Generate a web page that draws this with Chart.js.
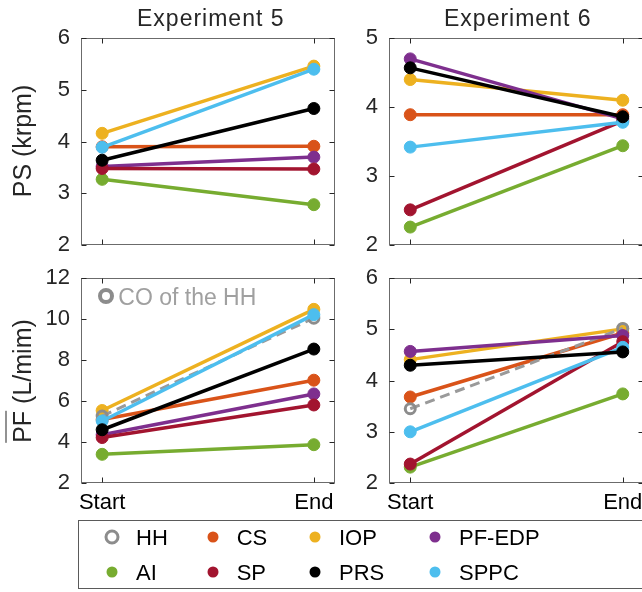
<!DOCTYPE html>
<html><head><meta charset="utf-8">
<script src="https://cdn.jsdelivr.net/npm/chart.js@4.4.1/dist/chart.umd.min.js"></script>
<style>
html,body{margin:0;padding:0;background:#fff;overflow:hidden;width:642px;height:592px;}
body{position:relative;font-family:Arial,"Liberation Sans",Helvetica,sans-serif;color:#262626;}
canvas{position:absolute;}
.t{position:absolute;white-space:nowrap;}
.title{font-size:23px;line-height:23px;letter-spacing:1px;}
.ylab{font-size:25px;line-height:25px;transform:translate(-50%,-50%) rotate(-90deg);}
.lg{position:absolute;font-size:22px;line-height:22px;white-space:nowrap;color:#000;}
.dot{position:absolute;width:11px;height:11px;border-radius:50%;transform:translate(-50%,-50%);}
.ring{position:absolute;box-sizing:border-box;border-radius:50%;transform:translate(-50%,-50%);background:transparent;}
</style></head><body>
<script>
// ---------- data ----------
const categories = ['Start', 'End'];
const seriesNames = ['CS', 'IOP', 'PF-EDP', 'AI', 'SP', 'PRS', 'SPPC'];
// Experiment 5, PS (krpm)
const ps5Start = [3.90, 4.16, 3.52, 3.27, 3.48, 3.64, 3.89];
const ps5End   = [3.91, 5.46, 3.70, 2.78, 3.47, 4.64, 5.40];
// Experiment 6, PS (krpm)
const ps6Start = [3.89, 4.40, 4.70, 2.26, 2.51, 4.57, 3.42];
const ps6End   = [3.89, 4.10, 3.83, 3.44, 3.80, 3.86, 3.78];
// Experiment 5, mean PF (L/mim)
const pf5Start = [5.10, 5.54, 4.36, 3.40, 4.22, 4.60, 5.03];
const pf5End   = [7.02, 10.48, 6.35, 3.87, 5.81, 8.54, 10.22];
// Experiment 6, mean PF (L/mim)
const pf6Start = [3.68, 4.41, 4.57, 2.31, 2.37, 4.30, 3.00];
const pf6End   = [4.93, 5.01, 4.88, 3.74, 4.76, 4.56, 4.65];
// HH (CO of the HH), PF panels only
const hhPf5 = [5.27, 10.05];
const hhPf6 = [3.45, 5.02];
// tick labels
const psTicks5 = [2, 3, 4, 5, 6];
const psTicks6 = [2, 3, 4, 5];
const pfTicks5 = [2, 4, 6, 8, 10, 12];
const pfTicks6 = [2, 3, 4, 5, 6];

// ---------- styles ----------
const colorOf = {CS:'#D95319', IOP:'#EDB120', 'PF-EDP':'#7E2F8E', AI:'#77AC30', SP:'#A2142F', PRS:'#000000', SPPC:'#4DBEEE', HH:'#8C8C8C'};
const rankOf = {AI:0, CS:1, IOP:2, HH:3, 'PF-EDP':4, SP:5, SPPC:6, PRS:7};

Chart.defaults.font.family = 'Arial, "Liberation Sans", Helvetica, sans-serif';
Chart.defaults.font.size = 22;
Chart.defaults.color = '#262626';

const boxPlugin = {
  id: 'matlabBox',
  beforeDatasetsDraw(chart) {
    const {ctx, chartArea: a, scales: {x, y}} = chart;
    const l = Math.round(a.left) + 0.5, r = Math.round(a.right) - 0.5;
    const t = Math.round(a.top) + 0.5, b = Math.round(a.bottom) - 0.5;
    ctx.save();
    ctx.strokeStyle = '#6b6b6b';
    ctx.lineWidth = 1;
    ctx.strokeRect(l, t, r - l, b - t);
    ctx.strokeStyle = '#262626';
    ctx.beginPath();
    const L = 5;
    x.ticks.forEach(tk => {
      const px = Math.round(x.getPixelForValue(tk.value)) + 0.5;
      ctx.moveTo(px, b); ctx.lineTo(px, b - L);
      ctx.moveTo(px, t); ctx.lineTo(px, t + L);
    });
    y.ticks.forEach(tk => {
      const py = Math.round(y.getPixelForValue(tk.value)) + 0.5;
      ctx.moveTo(l, py); ctx.lineTo(l + L, py);
      ctx.moveTo(r, py); ctx.lineTo(r - L, py);
    });
    ctx.stroke();
    ctx.restore();
  }
};

function makeDatasets(starts, ends, hh) {
  const ds = seriesNames.map((name, i) => ({
    label: name,
    data: [{x: 1, y: starts[i]}, {x: 2, y: ends[i]}],
    borderColor: colorOf[name],
    backgroundColor: colorOf[name],
    borderWidth: 3.5,
    pointRadius: 6,
    pointBorderWidth: 1,
    pointBackgroundColor: colorOf[name],
    pointBorderColor: colorOf[name],
    order: 10 - rankOf[name]
  }));
  if (hh) {
    ds.push({
      label: 'HH',
      data: [{x: 1, y: hh[0]}, {x: 2, y: hh[1]}],
      borderColor: '#9a9a9a',
      borderWidth: 3,
      borderDash: [10, 6],
      pointRadius: 5,
      pointBorderWidth: 3,
      pointBackgroundColor: 'rgba(0,0,0,0)',
      pointBorderColor: colorOf.HH,
      order: 10 - rankOf.HH
    });
  }
  return ds;
}

const YW = 70, PT = 20, PR = 20, XH = 45;
function makePanel(rect, ticks, showX, datasets) {
  const [L, T, R, B] = rect;
  const cv = document.createElement('canvas');
  const w = (R - L) + YW + PR, h = (B - T) + PT + XH;
  cv.width = w; cv.height = h;
  cv.style.left = (L - YW) + 'px'; cv.style.top = (T - PT) + 'px';
  cv.style.width = w + 'px'; cv.style.height = h + 'px';
  document.body.appendChild(cv);
  new Chart(cv, {
    type: 'line',
    data: {datasets},
    options: {
      responsive: false, animation: false, events: [],
      layout: {padding: {left: 0, top: PT, right: PR, bottom: 0}},
      plugins: {legend: {display: false}, tooltip: {enabled: false}},
      scales: {
        x: {
          type: 'linear', min: 0.9, max: 2.1,
          grid: {display: false, drawTicks: false}, border: {display: false},
          afterBuildTicks: s => { s.ticks = [{value: 1}, {value: 2}]; },
          afterFit: s => { s.height = XH; },
          ticks: {display: showX, padding: 7, maxRotation: 0, autoSkip: false, color: '#000',
                  callback: v => v === 1 ? categories[0] : (v === 2 ? categories[1] : '')}
        },
        y: {
          type: 'linear', min: ticks[0], max: ticks[ticks.length - 1],
          grid: {display: false, drawTicks: false}, border: {display: false},
          afterBuildTicks: s => { s.ticks = ticks.map(v => ({value: v})); },
          afterFit: s => { s.width = YW; },
          ticks: {padding: 11, color: '#262626'}
        }
      }
    },
    plugins: [boxPlugin]
  });
}

makePanel([81, 34, 335, 245], psTicks5, false, makeDatasets(ps5Start, ps5End, null));
makePanel([389, 34, 644, 245], psTicks6, false, makeDatasets(ps6Start, ps6End, null));
makePanel([81, 274, 335, 483], pfTicks5, true, makeDatasets(pf5Start, pf5End, hhPf5));
makePanel([389, 274, 644, 483], pfTicks6, true, makeDatasets(pf6Start, pf6End, hhPf6));

// ---------- texts ----------
function addText(cls, html, style) {
  const d = document.createElement('div');
  d.className = cls; d.innerHTML = html;
  Object.assign(d.style, style);
  document.body.appendChild(d);
  return d;
}
const t1 = addText('t title', 'Experiment 5', {left: '0px', top: '6.5px'});
const t2 = addText('t title', 'Experiment 6', {left: '0px', top: '6.5px'});
t1.style.left = (211 - t1.offsetWidth / 2) + 'px';
t2.style.left = (518 - t2.offsetWidth / 2) + 'px';

addText('t ylab', 'PS (krpm)', {left: '21.8px', top: '141px'});
addText('t ylab', '<span style="border-top:1.6px solid #262626;padding-top:1px">PF</span> (L/mim)', {left: '21.8px', top: '381px'});

// CO of the HH annotation
addText('ring', '', {left: '106px', top: '296px', width: '16px', height: '16px', border: '4px solid #8c8c8c'});
addText('t', 'CO of the HH', {left: '118.3px', top: '285.5px', fontSize: '23px', lineHeight: '23px', color: '#a0a0a0'});

// ---------- legend ----------
addText('', '', {position: 'absolute', left: '78px', top: '520px', width: '620px', height: '69px', border: '1px solid #5a5a5a', boxSizing: 'border-box'});
const legendNames = [['HH', 'CS', 'IOP', 'PF-EDP'], ['AI', 'SP', 'PRS', 'SPPC']];
const markX = [112, 213, 315, 435];
const textX = [136, 236.7, 339, 459];
const rowY = [537, 572];
legendNames.forEach((row, ri) => {
  row.forEach((name, ci) => {
    if (name === 'HH') {
      addText('ring', '', {left: markX[ci] + 'px', top: rowY[ri] + 'px', width: '15px', height: '15px', border: '3.5px solid #8c8c8c'});
    } else {
      addText('dot', '', {left: markX[ci] + 'px', top: rowY[ri] + 'px', background: colorOf[name]});
    }
    addText('lg', name, {left: textX[ci] + 'px', top: (rowY[ri] + 8.5 - 18.6) + 'px'});
  });
});
</script>
</body></html>
